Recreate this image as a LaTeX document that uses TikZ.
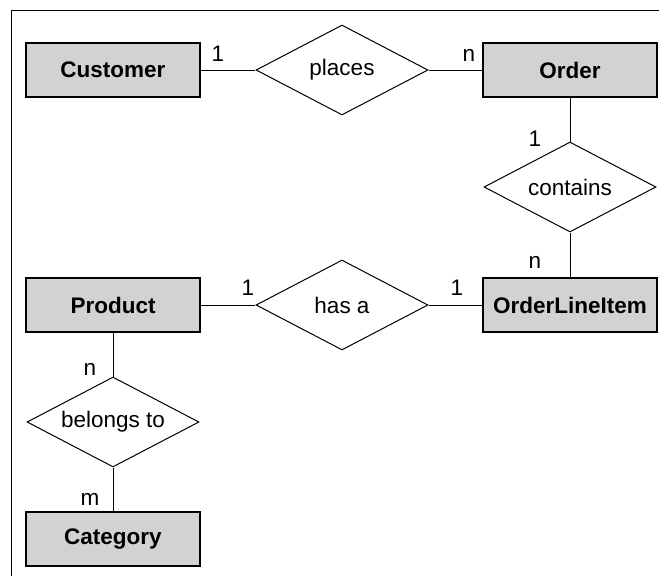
\documentclass[tikz,border=0pt]{standalone}
\usepackage{fontspec}
\setmainfont{Liberation Sans}
\usetikzlibrary{shapes.geometric}

\tikzset{ERent/.style={rectangle,draw,fill=gray!35,line width=1.3pt,minimum width=174pt,minimum height=54pt,inner sep=0pt,font=\fontsize{22.5}{26}\selectfont\bfseries},
         ERrel/.style={diamond,draw,fill=white,aspect=1.9,line width=1pt,minimum width=172pt,minimum height=90pt,inner sep=0pt},
         ERcard/.style={anchor=base}}

\begin{document}
\begin{tikzpicture}[x=1pt,y=-1pt,font=\fontsize{22.5}{26}\selectfont,line width=1pt]
    \useasboundingbox (0,0) rectangle (659,576);
    \draw (11,576) -- (11,10) -- (659,10);
    % entities
    \foreach \x/\y/\n/\l in {113/70/cust/Customer,570/70/ord/Order,570/305/oli/OrderLineItem,113/305/prod/Product,113/539/cat/Category}
      {\node[ERent] (\n) at (\x,\y) {\l};}
    % relationships
    \foreach \x/\y/\n/\l in {342/70/places/places,570/187/contains/contains,342/305/hasa/has a,113/422/belongs/belongs to}
      {\node[ERrel] (\n) at (\x,\y) {\l};}
    \draw (cust) -- (places) -- (ord);
    \draw (ord) -- (contains) -- (oli);
    \draw (prod) -- (hasa) -- (oli);
    \draw (prod) -- (belongs) -- (cat);
    % cardinalities
    \foreach \x/\y/\n/\l in {218/61/c1/1,469/61/c2/n,535/146/c3/1,535/268/c4/n,248/295/c5/1,457/295/c6/1,90/375/c7/n,90/505/c8/m}
      {\node[ERcard] (\n) at (\x,\y) {\l};}
  \end{tikzpicture}
\end{document}
